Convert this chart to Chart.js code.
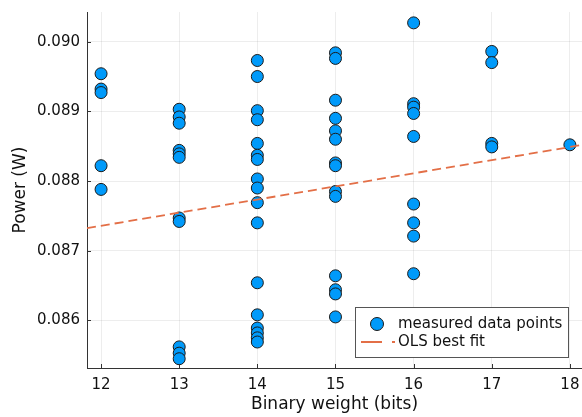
<!DOCTYPE html>
<html>
<head>
<meta charset="utf-8">
<script src="https://cdn.jsdelivr.net/npm/chart.js@4/dist/chart.umd.min.js"></script>
<style>
  html, body { margin: 0; padding: 0; background: #fff; }
  #wrap { width: 582px; height: 417px; position: relative; }
</style>
</head>
<body>
<div id="wrap"><canvas id="powerChart"></canvas></div>
<script>
// Measured power (W) for each binary weight (bits)
const weights = [12, 13, 14, 15, 16, 17, 18];
const power12 = [0.08954, 0.08932, 0.08927, 0.08822, 0.08788];
const power13 = [0.08903, 0.08892, 0.08883, 0.08844, 0.08839, 0.08834, 0.08747, 0.08742, 0.08562, 0.08553, 0.08545];
const power14 = [0.08973, 0.08950, 0.08901, 0.08888, 0.08854, 0.08837, 0.08831, 0.08803, 0.08790, 0.08769, 0.08740,
                 0.08654, 0.08608, 0.08589, 0.08582, 0.08575, 0.08569];
const power15 = [0.08984, 0.08976, 0.08916, 0.08890, 0.08872, 0.08860, 0.08826, 0.08822, 0.08785, 0.08778,
                 0.08664, 0.08644, 0.08638, 0.08605];
const power16 = [0.09027, 0.08911, 0.08906, 0.08897, 0.08864, 0.08767, 0.08740, 0.08721, 0.08667];
const power17 = [0.08986, 0.08970, 0.08854, 0.08849];
const power18 = [0.08852];
const powerByWeight = [power12, power13, power14, power15, power16, power17, power18];

// OLS fit line, sampled at the two ends of the x range
const fitX = [11.82, 18.18];
const fitY = [0.087324, 0.088522];

const xTicks = [12, 13, 14, 15, 16, 17, 18];
const yTicks = [0.086, 0.087, 0.088, 0.089, 0.090];

const points = [];
weights.forEach((w, i) => {
    powerByWeight[i].forEach(p => points.push({ x: w, y: p }));
});
const fitLine = fitX.map((x, i) => ({ x: x, y: fitY[i] }));

const FONT = 'DejaVu Sans';
const TEXT = '#111';
const AXIS = '#333';

// Ticks point inward from the axes
const innerTicks = {
    id: 'innerTicks',
    afterDatasetsDraw(chart) {
        const { ctx, chartArea, scales } = chart;
        ctx.save();
        ctx.strokeStyle = AXIS;
        ctx.lineWidth = 1;
        ctx.beginPath();
        yTicks.forEach(v => {
            const py = Math.round(scales.y.getPixelForValue(v)) + 0.5;
            ctx.moveTo(chartArea.left, py);
            ctx.lineTo(chartArea.left + 4, py);
        });
        xTicks.forEach(v => {
            const px = Math.round(scales.x.getPixelForValue(v)) + 0.5;
            ctx.moveTo(px, chartArea.bottom);
            ctx.lineTo(px, chartArea.bottom - 4);
        });
        ctx.stroke();
        ctx.restore();
    }
};

// Legend box in the lower right corner of the plot
const boxLegend = {
    id: 'boxLegend',
    afterDraw(chart) {
        const { ctx, chartArea } = chart;
        const [scatter, line] = chart.data.datasets;
        const w = 213, h = 50;
        const x0 = chartArea.right - 14 - w;
        const y0 = chartArea.bottom - 11 - h;
        ctx.save();
        ctx.fillStyle = '#fff';
        ctx.fillRect(x0, y0, w, h);
        ctx.strokeStyle = '#555';
        ctx.lineWidth = 1;
        ctx.strokeRect(Math.round(x0) + 0.5, Math.round(y0) + 0.5, w, h);

        // scatter entry
        ctx.beginPath();
        ctx.arc(x0 + 22, y0 + 17, 6.5, 0, Math.PI * 2);
        ctx.fillStyle = scatter.backgroundColor;
        ctx.fill();
        ctx.strokeStyle = scatter.borderColor;
        ctx.stroke();

        // line entry
        ctx.strokeStyle = line.borderColor;
        ctx.lineWidth = 2;
        ctx.setLineDash([21, 10]);
        ctx.beginPath();
        ctx.moveTo(x0 + 6, y0 + 35);
        ctx.lineTo(x0 + 40, y0 + 35);
        ctx.stroke();
        ctx.setLineDash([]);

        ctx.fillStyle = TEXT;
        ctx.font = '15px "' + FONT + '"';
        ctx.textBaseline = 'middle';
        ctx.textAlign = 'left';
        ctx.fillText(scatter.label, x0 + 43, y0 + 17);
        ctx.fillText(line.label, x0 + 43, y0 + 35);
        ctx.restore();
    }
};

new Chart(document.getElementById('powerChart'), {
    type: 'scatter',
    data: {
        datasets: [
            {
                label: 'measured data points',
                data: points,
                backgroundColor: '#009afa',
                borderColor: '#1a1a1a',
                borderWidth: 1,
                pointRadius: 6,
                order: 2
            },
            {
                type: 'line',
                label: 'OLS best fit',
                data: fitLine,
                borderColor: '#e36f47',
                borderWidth: 1.8,
                borderDash: [9, 5],
                pointRadius: 0,
                fill: false,
                order: 1
            }
        ]
    },
    options: {
        responsive: true,
        maintainAspectRatio: false,
        animation: false,
        layout: {
            autoPadding: false,
            padding: { top: 12, right: 0, bottom: 0, left: 0 }
        },
        plugins: {
            legend: { display: false },
            tooltip: { enabled: false }
        },
        scales: {
            x: {
                type: 'linear',
                min: 11.82,
                max: 18.155,
                afterBuildTicks: scale => { scale.ticks = xTicks.map(v => ({ value: v })); },
                afterFit: scale => {
                    scale.height = 49;
                    scale.paddingLeft = 0;
                    scale.paddingRight = 0;
                },
                ticks: {
                    color: TEXT,
                    padding: 8,
                    maxRotation: 0,
                    font: { family: FONT, size: 15 },
                    callback: v => String(v)
                },
                grid: { color: 'rgba(0,0,0,0.07)', drawTicks: false },
                border: { color: AXIS, width: 1 },
                title: {
                    display: true,
                    text: 'Binary weight (bits)',
                    color: TEXT,
                    font: { family: FONT, size: 17 },
                    padding: { top: 0, bottom: 2 }
                }
            },
            y: {
                min: 0.085317,
                max: 0.090426,
                afterBuildTicks: scale => { scale.ticks = yTicks.map(v => ({ value: v })); },
                afterFit: scale => {
                    scale.width = 87;
                    scale.paddingTop = 0;
                    scale.paddingBottom = 0;
                },
                ticks: {
                    color: TEXT,
                    padding: 7,
                    font: { family: FONT, size: 15 },
                    callback: v => v.toFixed(3)
                },
                grid: { color: 'rgba(0,0,0,0.07)', drawTicks: false },
                border: { color: AXIS, width: 1 },
                title: {
                    display: true,
                    text: 'Power (W)',
                    color: TEXT,
                    font: { family: FONT, size: 17 },
                    padding: { top: 10, bottom: 0 }
                }
            }
        }
    },
    plugins: [innerTicks, boxLegend]
});
</script>
</body>
</html>
